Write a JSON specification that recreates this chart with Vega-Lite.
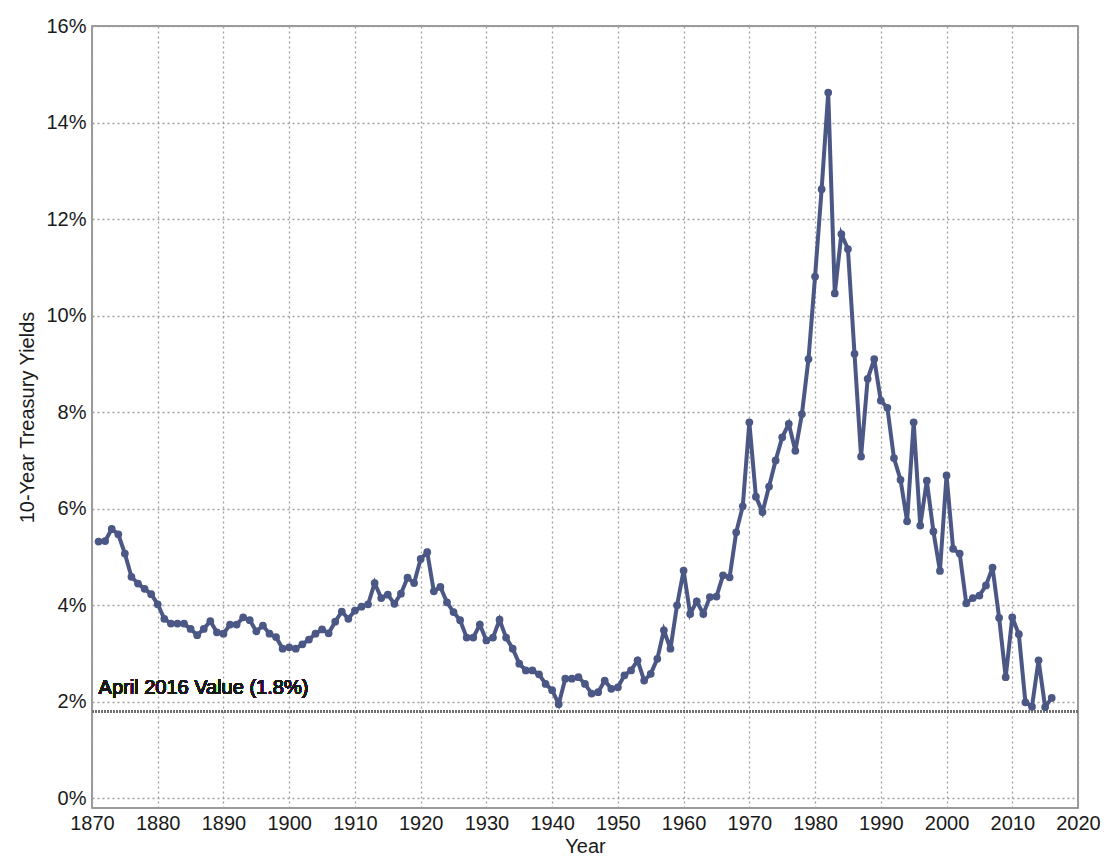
{
  "$schema": "https://vega.github.io/schema/vega-lite/v6.json",
  "width": 986,
  "height": 782,
  "autosize": {"type": "none"},
  "padding": {"left": 92, "top": 26, "right": 26, "bottom": 53},
  "background": "white",
  "config": {
    "font": "Liberation Sans",
    "view": {"stroke": "#7a7a7a", "strokeWidth": 1.5},
    "axis": {
      "labelFont": "Liberation Sans",
      "titleFont": "Liberation Sans",
      "labelFontSize": 20,
      "titleFontSize": 20,
      "titleFontWeight": "normal",
      "labelColor": "#1a1a1a",
      "titleColor": "#1a1a1a",
      "domain": false,
      "ticks": false,
      "grid": true,
      "gridColor": "#a0a0a0",
      "gridDash": [2, 3],
      "gridWidth": 1.3,
      "labelFlush": false,
      "labelOverlap": false
    }
  },
  "data": {
    "values": [
      {"year": 1871, "yield": 5.32}, {"year": 1872, "yield": 5.33}, {"year": 1873, "yield": 5.58}, {"year": 1874, "yield": 5.47},
      {"year": 1875, "yield": 5.07}, {"year": 1876, "yield": 4.59}, {"year": 1877, "yield": 4.45}, {"year": 1878, "yield": 4.34},
      {"year": 1879, "yield": 4.23}, {"year": 1880, "yield": 4.02}, {"year": 1881, "yield": 3.72}, {"year": 1882, "yield": 3.62},
      {"year": 1883, "yield": 3.62}, {"year": 1884, "yield": 3.62}, {"year": 1885, "yield": 3.51}, {"year": 1886, "yield": 3.38},
      {"year": 1887, "yield": 3.51}, {"year": 1888, "yield": 3.67}, {"year": 1889, "yield": 3.44}, {"year": 1890, "yield": 3.41},
      {"year": 1891, "yield": 3.60}, {"year": 1892, "yield": 3.60}, {"year": 1893, "yield": 3.75}, {"year": 1894, "yield": 3.69},
      {"year": 1895, "yield": 3.46}, {"year": 1896, "yield": 3.58}, {"year": 1897, "yield": 3.41}, {"year": 1898, "yield": 3.34},
      {"year": 1899, "yield": 3.10}, {"year": 1900, "yield": 3.13}, {"year": 1901, "yield": 3.10}, {"year": 1902, "yield": 3.19},
      {"year": 1903, "yield": 3.29}, {"year": 1904, "yield": 3.41}, {"year": 1905, "yield": 3.50}, {"year": 1906, "yield": 3.42},
      {"year": 1907, "yield": 3.66}, {"year": 1908, "yield": 3.87}, {"year": 1909, "yield": 3.72}, {"year": 1910, "yield": 3.89},
      {"year": 1911, "yield": 3.97}, {"year": 1912, "yield": 4.02}, {"year": 1913, "yield": 4.46}, {"year": 1914, "yield": 4.15},
      {"year": 1915, "yield": 4.22}, {"year": 1916, "yield": 4.03}, {"year": 1917, "yield": 4.24}, {"year": 1918, "yield": 4.57},
      {"year": 1919, "yield": 4.46}, {"year": 1920, "yield": 4.96}, {"year": 1921, "yield": 5.10}, {"year": 1922, "yield": 4.29},
      {"year": 1923, "yield": 4.38}, {"year": 1924, "yield": 4.06}, {"year": 1925, "yield": 3.86}, {"year": 1926, "yield": 3.69},
      {"year": 1927, "yield": 3.33}, {"year": 1928, "yield": 3.33}, {"year": 1929, "yield": 3.60}, {"year": 1930, "yield": 3.27},
      {"year": 1931, "yield": 3.33}, {"year": 1932, "yield": 3.70}, {"year": 1933, "yield": 3.33}, {"year": 1934, "yield": 3.10},
      {"year": 1935, "yield": 2.79}, {"year": 1936, "yield": 2.65}, {"year": 1937, "yield": 2.65}, {"year": 1938, "yield": 2.57},
      {"year": 1939, "yield": 2.37}, {"year": 1940, "yield": 2.24}, {"year": 1941, "yield": 1.95}, {"year": 1942, "yield": 2.48},
      {"year": 1943, "yield": 2.48}, {"year": 1944, "yield": 2.51}, {"year": 1945, "yield": 2.37}, {"year": 1946, "yield": 2.17},
      {"year": 1947, "yield": 2.20}, {"year": 1948, "yield": 2.44}, {"year": 1949, "yield": 2.27}, {"year": 1950, "yield": 2.30},
      {"year": 1951, "yield": 2.55}, {"year": 1952, "yield": 2.65}, {"year": 1953, "yield": 2.86}, {"year": 1954, "yield": 2.44},
      {"year": 1955, "yield": 2.58}, {"year": 1956, "yield": 2.89}, {"year": 1957, "yield": 3.48}, {"year": 1958, "yield": 3.10},
      {"year": 1959, "yield": 4.00}, {"year": 1960, "yield": 4.72}, {"year": 1961, "yield": 3.82}, {"year": 1962, "yield": 4.08},
      {"year": 1963, "yield": 3.82}, {"year": 1964, "yield": 4.17}, {"year": 1965, "yield": 4.18}, {"year": 1966, "yield": 4.62},
      {"year": 1967, "yield": 4.58}, {"year": 1968, "yield": 5.51}, {"year": 1969, "yield": 6.05}, {"year": 1970, "yield": 7.79},
      {"year": 1971, "yield": 6.25}, {"year": 1972, "yield": 5.93}, {"year": 1973, "yield": 6.46}, {"year": 1974, "yield": 7.00},
      {"year": 1975, "yield": 7.48}, {"year": 1976, "yield": 7.76}, {"year": 1977, "yield": 7.20}, {"year": 1978, "yield": 7.96},
      {"year": 1979, "yield": 9.10}, {"year": 1980, "yield": 10.81}, {"year": 1981, "yield": 12.62}, {"year": 1982, "yield": 14.62},
      {"year": 1983, "yield": 10.46}, {"year": 1984, "yield": 11.69}, {"year": 1985, "yield": 11.38}, {"year": 1986, "yield": 9.21},
      {"year": 1987, "yield": 7.08}, {"year": 1988, "yield": 8.69}, {"year": 1989, "yield": 9.10}, {"year": 1990, "yield": 8.24},
      {"year": 1991, "yield": 8.09}, {"year": 1992, "yield": 7.05}, {"year": 1993, "yield": 6.60}, {"year": 1994, "yield": 5.74},
      {"year": 1995, "yield": 7.79}, {"year": 1996, "yield": 5.65}, {"year": 1997, "yield": 6.58}, {"year": 1998, "yield": 5.53},
      {"year": 1999, "yield": 4.71}, {"year": 2000, "yield": 6.69}, {"year": 2001, "yield": 5.17}, {"year": 2002, "yield": 5.07},
      {"year": 2003, "yield": 4.04}, {"year": 2004, "yield": 4.15}, {"year": 2005, "yield": 4.20}, {"year": 2006, "yield": 4.41},
      {"year": 2007, "yield": 4.78}, {"year": 2008, "yield": 3.74}, {"year": 2009, "yield": 2.51}, {"year": 2010, "yield": 3.75},
      {"year": 2011, "yield": 3.40}, {"year": 2012, "yield": 1.99}, {"year": 2013, "yield": 1.90}, {"year": 2014, "yield": 2.86},
      {"year": 2015, "yield": 1.89}, {"year": 2016, "yield": 2.08}
    ]
  },
  "layer": [
    {
      "mark": {"type": "rule", "color": "#707070", "strokeWidth": 3, "strokeDash": [1.5, 1.5]},
      "encoding": {"y": {"datum": 1.8, "type": "quantitative"}}
    },
    {
      "mark": {"type": "text", "align": "left", "baseline": "alphabetic", "fontSize": 20, "font": "Liberation Sans", "color": "#1a1a1a"},
      "encoding": {
        "x": {"datum": 1871, "type": "quantitative"},
        "y": {"datum": 2.16, "type": "quantitative"},
        "text": {"value": "April 2016 Value (1.8%)"}
      }
    },
    {
      "mark": {"type": "line", "color": "#4b5785", "strokeWidth": 4, "point": {"filled": true, "size": 60, "color": "#4b5785", "opacity": 1}},
      "encoding": {
        "x": {
          "field": "year",
          "type": "quantitative",
          "scale": {"domain": [1870, 2020], "nice": false, "zero": false},
          "axis": {"values": [1870, 1880, 1890, 1900, 1910, 1920, 1930, 1940, 1950, 1960, 1970, 1980, 1990, 2000, 2010, 2020], "format": "d", "title": "Year", "labelPadding": 5, "titlePadding": 3}
        },
        "y": {
          "field": "yield",
          "type": "quantitative",
          "scale": {"domain": [-0.2, 16], "nice": false, "zero": false},
          "axis": {"values": [0, 2, 4, 6, 8, 10, 12, 14, 16], "labelExpr": "datum.value + '%'", "title": "10-Year Treasury Yields", "titleFontSize": 20, "labelPadding": 6, "titlePadding": 8}
        }
      }
    }
  ]
}
